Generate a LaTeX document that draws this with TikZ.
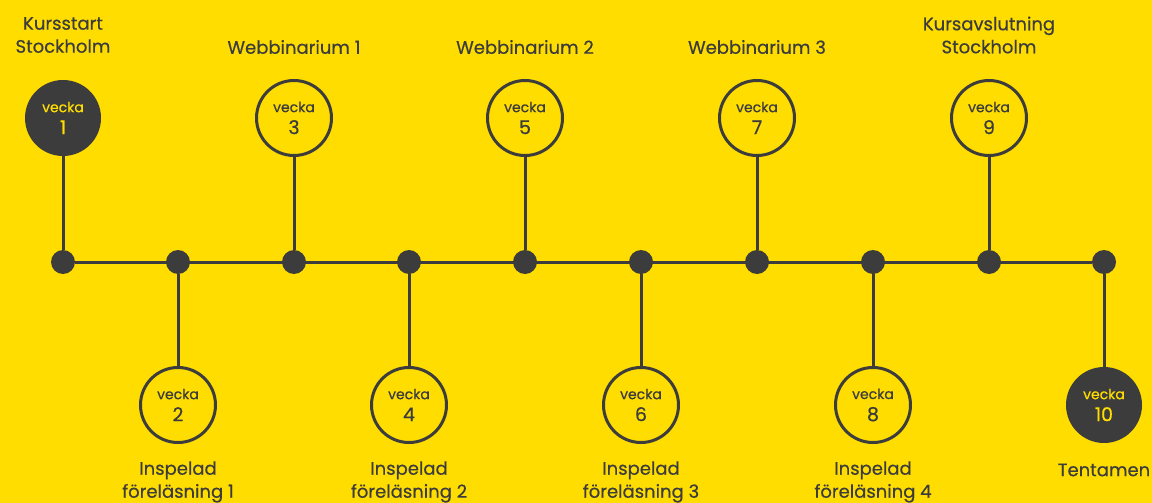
\documentclass[tikz,border=0pt]{standalone}
\usepackage{fontspec}
\setmainfont{Poppins}[FakeBold=0.5]
\usetikzlibrary{positioning}
\definecolor{gul}{HTML}{FFDD00}
\definecolor{mork}{HTML}{3C3C3C}
\newcommand{\vk}[1]{vecka\\{\fontsize{19}{19}\selectfont #1}}

\begin{document}
\begin{tikzpicture}[x=1pt, y=-1pt,
        every node/.style={text=mork},
        prick/.style={circle, fill=mork, minimum size=24pt, inner sep=0pt},
        vecka/.style={circle, draw=mork, line width=3pt, minimum size=75pt, inner sep=0pt, align=center, font=\fontsize{14}{22}\selectfont},
        vecka fylld/.style={vecka, fill=mork, text=gul, minimum size=73pt},
        etikett/.style={align=center, font=\fontsize{18}{23}\selectfont},
        linje/.style={draw=mork, line width=3pt}
    ]
        \fill[gul] (0,0) rectangle (1152,503);
        \useasboundingbox (0,0) rectangle (1152,503);

        % tidslinjen med prickar
        \node[prick] (p1) at (63,262) {};
        \node[prick] (p2) at (178,262) {};
        \node[prick] (p3) at (294,262) {};
        \node[prick] (p4) at (409,262) {};
        \node[prick] (p5) at (525,262) {};
        \node[prick] (p6) at (641,262) {};
        \node[prick] (p7) at (757,262) {};
        \node[prick] (p8) at (873,262) {};
        \node[prick] (p9) at (989,262) {};
        \node[prick] (p10) at (1104,262) {};

        % veckor
        \node[vecka fylld] (v1) at (63,118) {\vk{1}};
        \node[vecka] (v2) at (178,405) {\vk{2}};
        \node[vecka] (v3) at (294,118) {\vk{3}};
        \node[vecka] (v4) at (409,405) {\vk{4}};
        \node[vecka] (v5) at (525,118) {\vk{5}};
        \node[vecka] (v6) at (641,405) {\vk{6}};
        \node[vecka] (v7) at (757,118) {\vk{7}};
        \node[vecka] (v8) at (873,405) {\vk{8}};
        \node[vecka] (v9) at (989,118) {\vk{9}};
        \node[vecka fylld] (v10) at (1104,405) {\vk{10}};

        % texter
        \node[etikett] (t1) at (63,35) {Kursstart\\Stockholm};
        \node[etikett] (t3) at (294,47) {Webbinarium 1};
        \node[etikett] (t5) at (525,47) {Webbinarium 2};
        \node[etikett] (t7) at (757,47) {Webbinarium 3};
        \node[etikett] (t9) at (989,35) {Kursavslutning\\Stockholm};
        \node[etikett] (t2) at (178,482) {Inspelad\\föreläsning 1};
        \node[etikett] (t4) at (409,482) {Inspelad\\föreläsning 2};
        \node[etikett] (t6) at (641,482) {Inspelad\\föreläsning 3};
        \node[etikett] (t8) at (873,482) {Inspelad\\föreläsning 4};
        \node[etikett] (t10) at (1104,470) {Tentamen};

        % linjer
        \draw[linje] (p1) -- (p10);
        \draw[linje] (p1) -- (v1);
        \draw[linje] (p2) -- (v2);
        \draw[linje] (p3) -- (v3);
        \draw[linje] (p4) -- (v4);
        \draw[linje] (p5) -- (v5);
        \draw[linje] (p6) -- (v6);
        \draw[linje] (p7) -- (v7);
        \draw[linje] (p8) -- (v8);
        \draw[linje] (p9) -- (v9);
        \draw[linje] (p10) -- (v10);
    \end{tikzpicture}
\end{document}
